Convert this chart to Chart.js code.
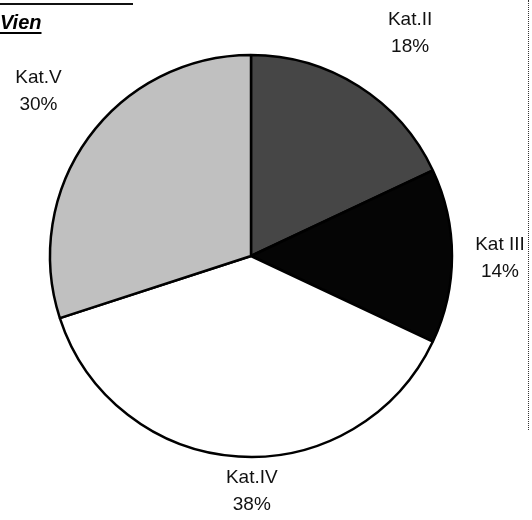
<!DOCTYPE html>
<html>
<head>
<meta charset="utf-8">
<script src="https://cdn.jsdelivr.net/npm/chart.js@4/dist/chart.umd.min.js"></script>
<style>
  html, body { margin: 0; padding: 0; background: #fff; }
  #wrap { position: relative; width: 532px; height: 520px; overflow: hidden; background: #fff; }
  #c { position: absolute; left: 0; top: 0; }
  #topline { position: absolute; left: 0; top: 3px; width: 133px; height: 0; border-top: 2px solid #111; }
  #rightline { position: absolute; left: 528px; top: 0; width: 0; height: 430px; border-left: 1px dotted #333; }
  #title { position: absolute; left: 0; top: 11px; font-family: "Liberation Sans", Arial, sans-serif;
           font-weight: bold; font-style: italic; font-size: 20px; color: #000;
           text-decoration: underline; text-decoration-thickness: 2px; text-underline-offset: 3px; }
</style>
</head>
<body>
<div id="wrap">
  <canvas id="c" width="532" height="520"></canvas>
  <div id="topline"></div>
  <div id="rightline"></div>
  <div id="title">Vien</div>
</div>
<script>
const categories = ["Kat.II", "Kat III", "Kat.IV", "Kat.V"];
const shares = [18, 14, 38, 30];
const percentLabels = ["18%", "14%", "38%", "30%"];
const sliceColors = ["#464646", "#050505", "#ffffff", "#c0c0c0"];
const labelDistance = [274, 249, 235, 269];
const labelAngleNudge = [3.1, 0.5, -3.8, 1.8];

const labelPlugin = {
  id: 'outerLabels',
  afterDatasetsDraw(chart) {
    const ctx = chart.ctx;
    const meta = chart.getDatasetMeta(0);
    ctx.save();
    ctx.fillStyle = '#111';
    ctx.font = '19px "Liberation Sans", Arial, sans-serif';
    ctx.textAlign = 'center';
    ctx.textBaseline = 'middle';
    meta.data.forEach((arc, i) => {
      const p = arc.getProps(['x', 'y', 'startAngle', 'endAngle'], true);
      const a = (p.startAngle + p.endAngle) / 2 + labelAngleNudge[i] * Math.PI / 180;
      const x = p.x + Math.cos(a) * labelDistance[i];
      const y = p.y + Math.sin(a) * labelDistance[i];
      ctx.fillText(categories[i], x, y - 13);
      ctx.fillText(percentLabels[i], x, y + 14);
    });
    ctx.restore();
  }
};

new Chart(document.getElementById('c'), {
  type: 'pie',
  data: {
    labels: categories,
    datasets: [{
      data: shares,
      backgroundColor: sliceColors,
      borderColor: '#000',
      borderWidth: 2.5,
      hoverOffset: 0,
      offset: 0
    }]
  },
  options: {
    responsive: false,
    animation: false,
    events: [],
    radius: 201,
    layout: { padding: { left: 50, right: 80, top: 55, bottom: 63 } },
    plugins: { legend: { display: false }, tooltip: { enabled: false } }
  },
  plugins: [labelPlugin]
});
</script>
</body>
</html>
